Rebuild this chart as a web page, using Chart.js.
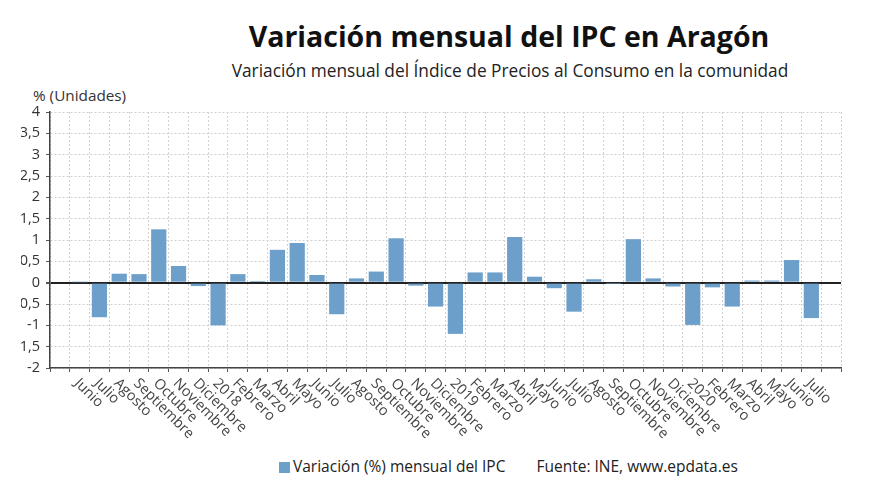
<!DOCTYPE html>
<html>
<head>
<meta charset="utf-8">
<script src="https://cdn.jsdelivr.net/npm/chart.js@4/dist/chart.umd.min.js"></script>
<style>
  html, body { margin: 0; padding: 0; background: #fff; }
  body { width: 880px; height: 495px; position: relative; overflow: hidden; font-family: 'Open Sans', sans-serif; }
  #title { position: absolute; left: 0; width: 1018px; top: 17px; text-align: center; font-size: 28.5px; font-weight: 700; color: #111; }
  #subtitle { position: absolute; left: 0; width: 1020px; top: 59px; text-align: center; font-size: 17.3px; color: #222; }
  #unit { position: absolute; left: 33px; top: 85px; font-size: 15.3px; color: #333; }
  #wrap { position: absolute; left: 21px; top: 90px; width: 859px; height: 355px; }
  #legend { position: absolute; top: 455px; left: 279px; font-size: 15.5px; color: #222; white-space: nowrap; }
  #legend .box { display: inline-block; width: 11px; height: 11px; background: #6c9fca; margin-right: 3px; vertical-align: -1px; }
  #legend .src { margin-left: 31px; }
</style>
</head>
<body>
<div id="title">Variación mensual del IPC en Aragón</div>
<div id="subtitle">Variación mensual del Índice de Precios al Consumo en la comunidad</div>
<div id="unit">% (Unidades)</div>
<div id="wrap"><canvas id="c"></canvas></div>
<div id="legend"><span class="box"></span>Variación (%) mensual del IPC<span class="src">Fuente: INE, www.epdata.es</span></div>
<script>
const seriesName = 'Variación (%) mensual del IPC';
const categories = [
  'Junio', 'Julio', 'Agosto', 'Septiembre', 'Octubre', 'Noviembre', 'Diciembre',
  '2018', 'Febrero', 'Marzo', 'Abril', 'Mayo', 'Junio', 'Julio', 'Agosto', 'Septiembre', 'Octubre', 'Noviembre', 'Diciembre',
  '2019', 'Febrero', 'Marzo', 'Abril', 'Mayo', 'Junio', 'Julio', 'Agosto', 'Septiembre', 'Octubre', 'Noviembre', 'Diciembre',
  '2020', 'Febrero', 'Marzo', 'Abril', 'Mayo', 'Junio', 'Julio'
];
const values = [
  0.01, -0.81, 0.21, 0.20, 1.25, 0.39, -0.08,
  -1.00, 0.20, 0.04, 0.77, 0.93, 0.18, -0.74, 0.10, 0.26, 1.04, -0.07, -0.56,
  -1.20, 0.24, 0.24, 1.07, 0.14, -0.13, -0.68, 0.08, -0.01, 1.02, 0.10, -0.09,
  -0.99, -0.11, -0.56, 0.05, 0.05, 0.53, -0.83
];
const yTicks = [-2, -1.5, -1, -0.5, 0, 0.5, 1, 1.5, 2, 2.5, 3, 3.5, 4];

// one empty slot at each end of the axis, as in the original
const labels = [''].concat(categories, ['']);
const data = [null].concat(values, [null]);

Chart.defaults.font.family = "'Open Sans', sans-serif";

const xLabelPlugin = {
  id: 'xLabels',
  afterDraw(chart) {
    const sc = chart.scales.x;
    const ctx = chart.ctx;
    ctx.save();
    ctx.font = "14.5px 'Open Sans', sans-serif";
    ctx.fillStyle = '#444';
    ctx.textAlign = 'left';
    ctx.textBaseline = 'middle';
    labels.forEach((lab, i) => {
      if (!lab) return;
      const x = sc.getPixelForTick(i) - 3;
      const y = sc.top + 13;
      ctx.save();
      ctx.translate(x, y);
      ctx.rotate(Math.PI / 4);
      ctx.fillText(lab, 0, 0);
      ctx.restore();
    });
    ctx.restore();
  }
};

new Chart(document.getElementById('c'), {
  type: 'bar',
  data: {
    labels: labels,
    datasets: [{
      label: seriesName,
      data: data,
      backgroundColor: '#6c9fca',
      borderWidth: 0,
      barPercentage: 0.77,
      categoryPercentage: 1.0
    }]
  },
  options: {
    responsive: true,
    maintainAspectRatio: false,
    animation: false,
    layout: { padding: { top: 22, right: 39, bottom: 7, left: 0 } },
    plugins: { legend: { display: false }, title: { display: false }, tooltip: { enabled: false } },
    scales: {
      x: {
        offset: true,
        afterFit(scale) { scale.height = 70; },
        ticks: { display: false },
        grid: { color: '#d0d0d0', lineWidth: 1, tickLength: 4, tickColor: '#555', tickBorderDash: [] },
        border: { display: true, color: '#444', width: 1.5, dash: [2, 2] }
      },
      y: {
        min: -2, max: 4,
        afterFit(scale) { scale.width = 29; },
        afterBuildTicks(scale) { scale.ticks = yTicks.map(v => ({ value: v })); },
        ticks: {
          color: '#333',
          font: { size: 14.5 },
          padding: 6,
          callback: v => String(v).replace('.', ',')
        },
        grid: {
          color: ctx => (ctx.tick && ctx.tick.value === 0) ? '#222' : '#d0d0d0',
          lineWidth: ctx => (ctx.tick && ctx.tick.value === 0) ? 2 : 1,
          tickLength: 4,
          tickColor: '#555',
          tickBorderDash: []
        },
        border: {
          display: true, color: '#444', width: 1.5,
          dash: ctx => (ctx.tick && ctx.tick.value === 0) ? [] : [2, 2]
        }
      }
    }
  },
  plugins: [xLabelPlugin]
});
</script>
</body>
</html>
